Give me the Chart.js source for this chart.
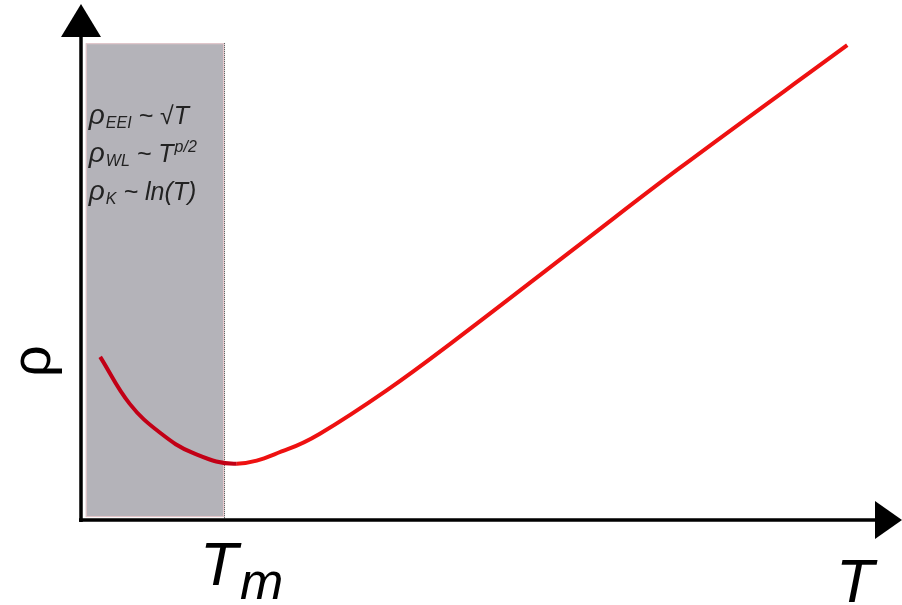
<!DOCTYPE html>
<html>
<head>
<meta charset="utf-8">
<script src="https://cdn.jsdelivr.net/npm/chart.js@4/dist/chart.umd.min.js"></script>
<style>
  body { margin: 0; background: #fff; }
  #wrap { width: 902px; height: 605px; }
</style>
</head>
<body>
<div id="wrap"><canvas id="myChart" width="902" height="605"></canvas></div>
<script>
// temperature (arbitrary units) and resistivity
const tempX = [2.4, 6.1, 9.9, 14.0, 19.5, 25.8, 29.9, 38.3, 46.5, 62.4, 74.9, 95.9];
const rhoY = [33.3, 23.7, 17.8, 13.7, 11.5, 14.4, 17.6, 26.5, 36.3, 56.2, 71.8, 96.9];
const tmValue = 17.9;      // T_m, edge of the shaded low-T region
const shadeRange = [0.6, 97.3];
const lawLines = [
  ['ρ', 'EEI', ' ~ √T', ''],
  ['ρ', 'WL', ' ~ T', 'p/2'],
  ['ρ', 'K', ' ~ ln(T)', '']
];

const F = '"Liberation Sans", Arial, sans-serif';

const decor = {
  id: 'decor',
  beforeDatasetsDraw(chart) {
    const ctx = chart.ctx, xs = chart.scales.x, ys = chart.scales.y;
    const x0 = xs.getPixelForValue(shadeRange[0]);
    const x1 = xs.getPixelForValue(tmValue);
    const yt = ys.getPixelForValue(shadeRange[1]);
    const yb = ys.getPixelForValue(shadeRange[0]);
    ctx.save();
    ctx.fillStyle = '#b4b3b9';
    ctx.fillRect(x0, yt, x1 - x0, yb - yt);
    ctx.strokeStyle = '#e8c8cc';
    ctx.lineWidth = 1;
    ctx.strokeRect(x0 + 0.5, yt + 0.5, x1 - x0 - 1, yb - yt - 1);
    // dotted right edge
    ctx.strokeStyle = '#333';
    ctx.setLineDash([1, 1]);
    ctx.beginPath();
    ctx.moveTo(x1 + 0.5, yt);
    ctx.lineTo(x1 + 0.5, ys.getPixelForValue(0));
    ctx.stroke();
    ctx.setLineDash([]);

    // law annotations
    ctx.fillStyle = '#222';
    ctx.textBaseline = 'alphabetic';
    lawLines.forEach((ln, i) => {
      let x = x0 + 3;
      const y = 124 + i * 38;
      ctx.font = 'italic 28px ' + F;
      ctx.fillText(ln[0], x, y);
      x += ctx.measureText(ln[0]).width + 1;
      ctx.font = 'italic 16px ' + F;
      ctx.fillText(ln[1], x, y + 4);
      x += ctx.measureText(ln[1]).width;
      ctx.font = 'italic 25px ' + F;
      ctx.fillText(ln[2], x, y);
      x += ctx.measureText(ln[2]).width + 1;
      if (ln[3]) {
        ctx.font = 'italic 16px ' + F;
        ctx.fillText(ln[3], x, y - 10);
      }
    });
    ctx.restore();
  },
  afterDraw(chart) {
    const ctx = chart.ctx, a = chart.chartArea, xs = chart.scales.x;
    const ox = a.left, oy = a.bottom;
    ctx.save();
    ctx.fillStyle = '#000';
    ctx.strokeStyle = '#000';
    ctx.lineWidth = 3.5;
    ctx.beginPath();
    ctx.moveTo(ox, oy + 2);
    ctx.lineTo(ox, 30);
    ctx.moveTo(ox - 2, oy);
    ctx.lineTo(878, oy);
    ctx.stroke();
    // arrow heads
    ctx.beginPath();
    ctx.moveTo(ox, 4);
    ctx.lineTo(ox - 20, 37);
    ctx.lineTo(ox + 20, 37);
    ctx.closePath();
    ctx.fill();
    ctx.beginPath();
    ctx.moveTo(902, oy);
    ctx.lineTo(875, oy - 19);
    ctx.lineTo(875, oy + 19);
    ctx.closePath();
    ctx.fill();

    // axis labels
    ctx.textBaseline = 'alphabetic';
    ctx.font = 'italic 62px ' + F;
    const tx = xs.getPixelForValue(tmValue);
    ctx.fillText('T', tx - 24, 585);
    ctx.font = 'italic 52px ' + F;
    ctx.fillText('m', tx + 16, 599);
    ctx.font = 'italic 62px ' + F;
    ctx.fillText('T', 836, 602);

    ctx.translate(50, 361);
    ctx.rotate(-Math.PI / 2);
    ctx.font = '56px ' + F;
    ctx.textAlign = 'center';
    ctx.fillText('ρ', 0, 0);
    ctx.restore();
  }
};

new Chart(document.getElementById('myChart'), {
  type: 'line',
  data: {
    datasets: [{
      data: tempX.map((t, i) => ({ x: t, y: rhoY[i] })),
      borderWidth: 4,
      borderColor: '#ee1111',
      segment: {
        borderColor: c => c.p0.parsed.x < tmValue ? '#c20016' : '#ee1111'
      },
      pointRadius: 0,
      tension: 0.4,
      fill: false
    }]
  },
  options: {
    responsive: false,
    animation: false,
    layout: { padding: { left: 81, right: 22, top: 30, bottom: 85 } },
    plugins: { legend: { display: false }, tooltip: { enabled: false } },
    scales: {
      x: { type: 'linear', min: 0, max: 100, display: false },
      y: { type: 'linear', min: 0, max: 100, display: false }
    }
  },
  plugins: [decor]
});
</script>
</body>
</html>
